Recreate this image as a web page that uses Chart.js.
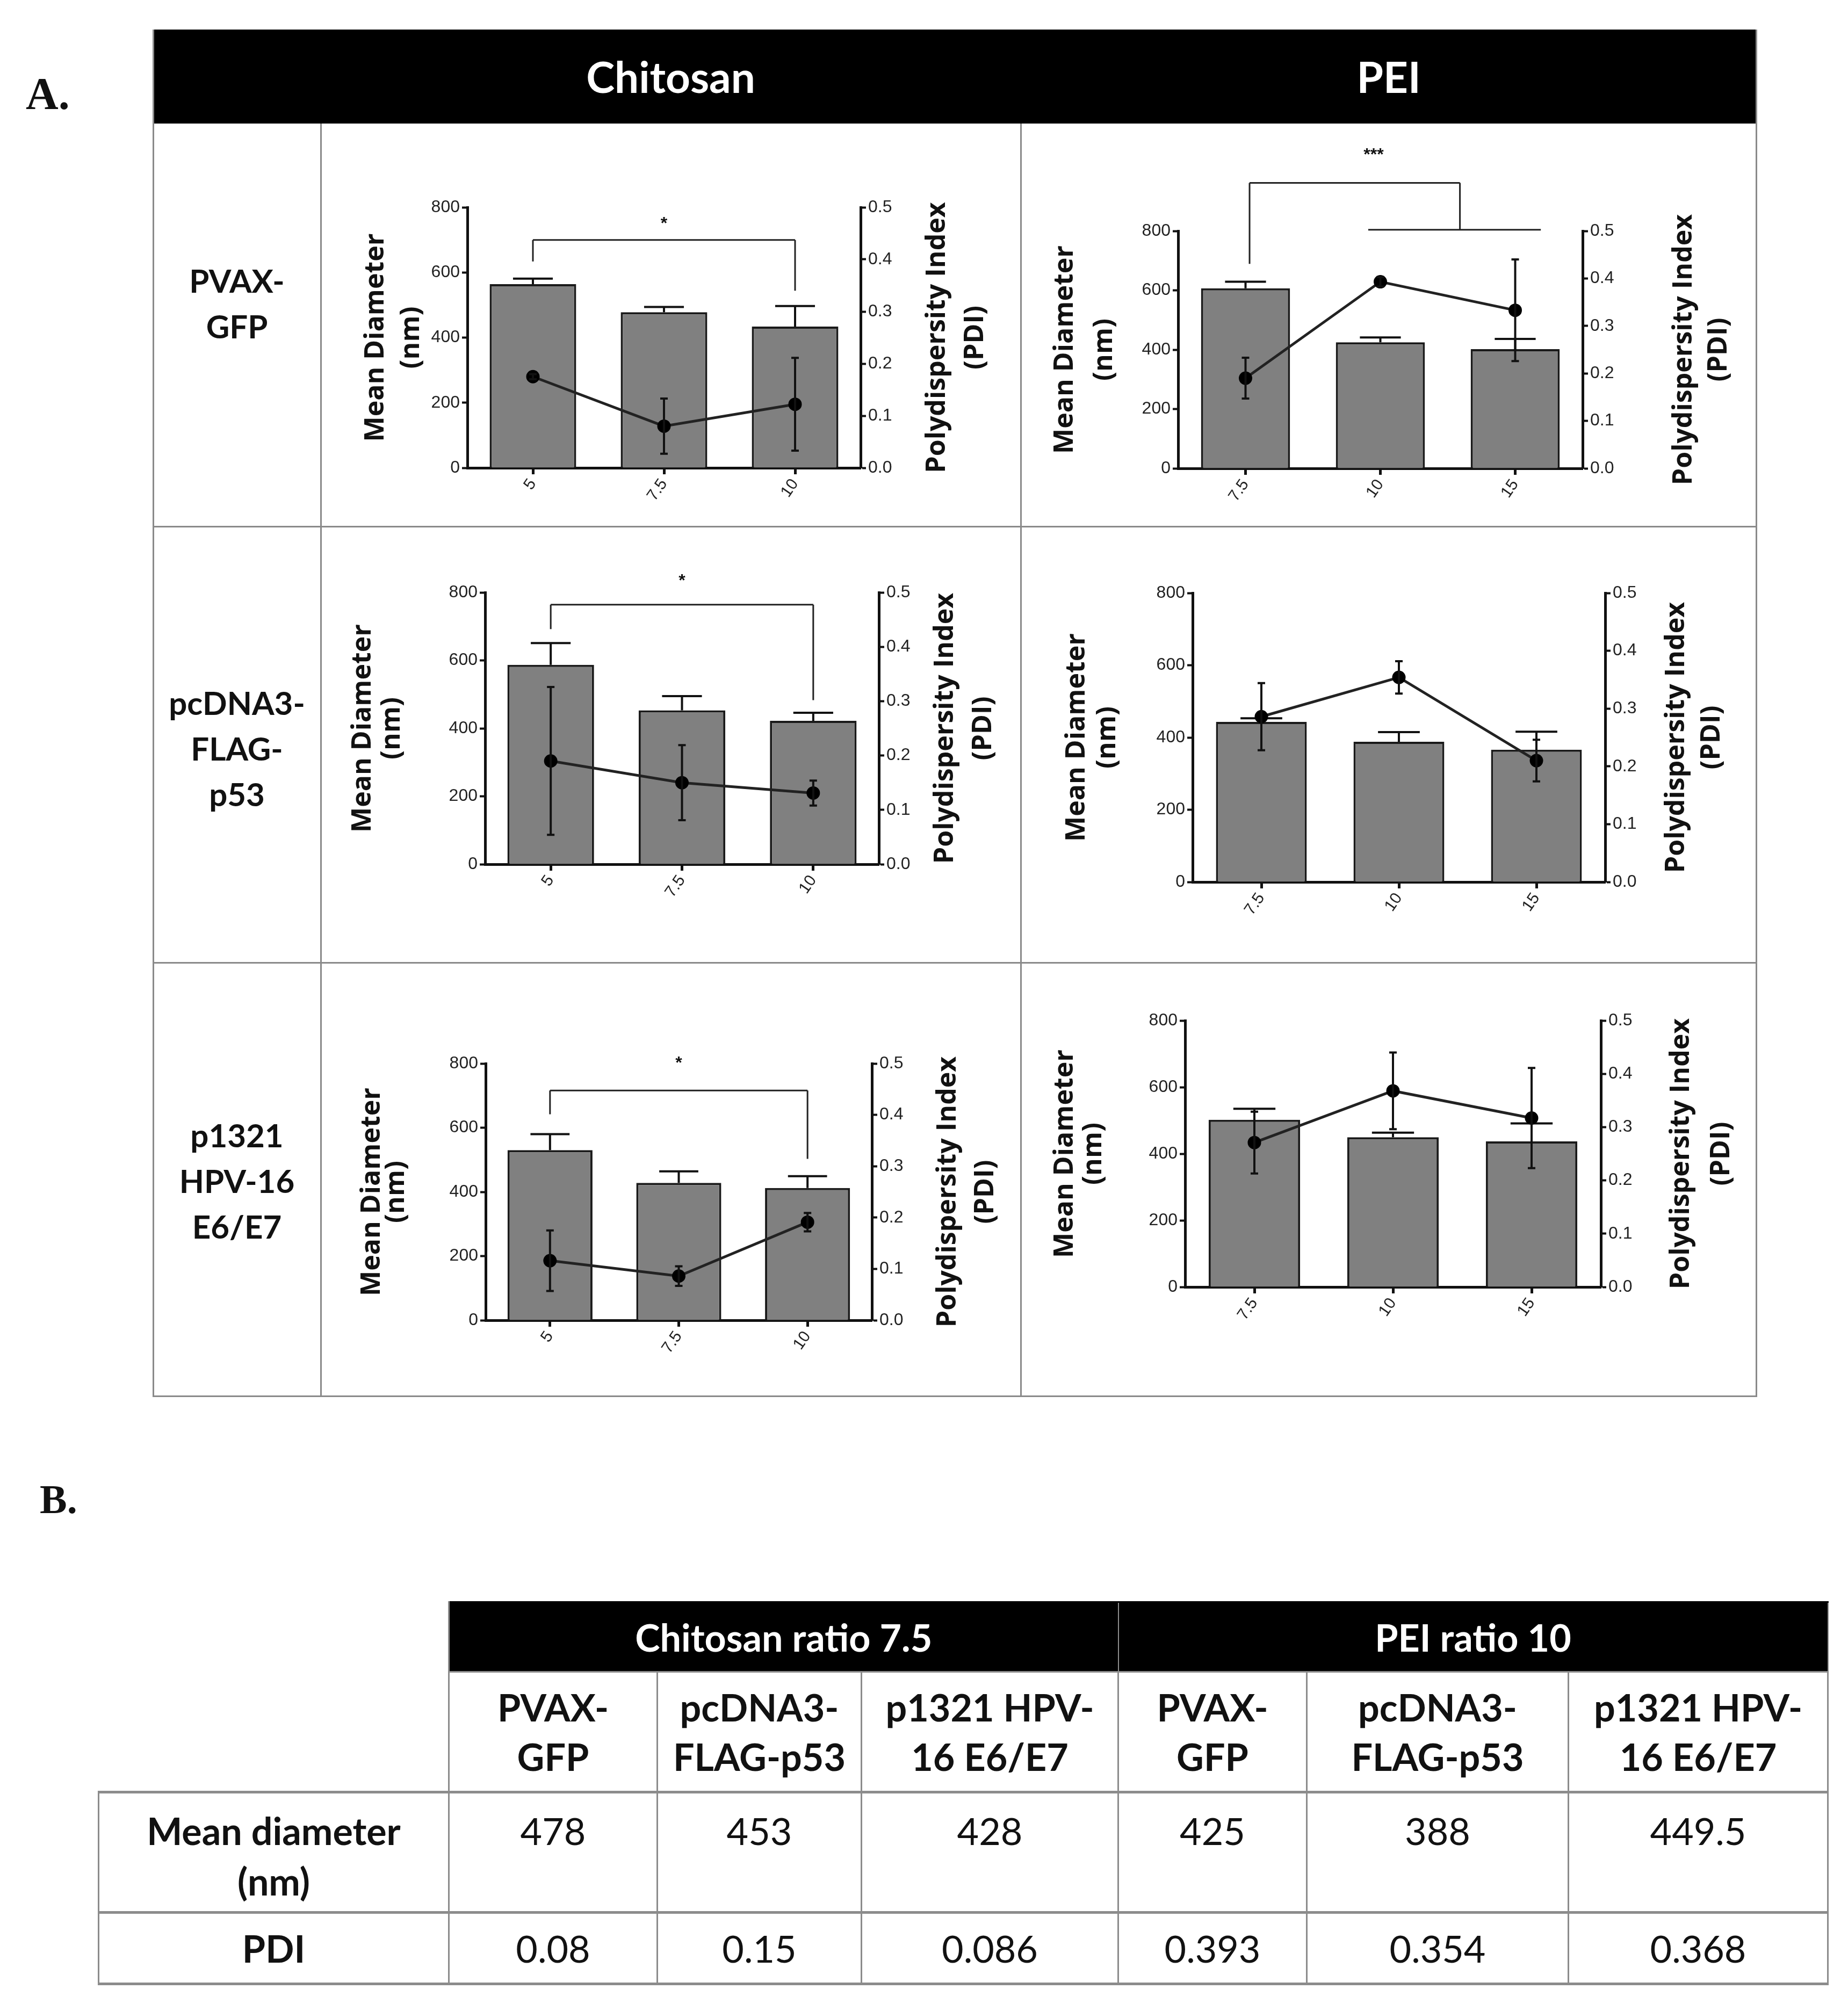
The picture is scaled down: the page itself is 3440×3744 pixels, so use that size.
<!DOCTYPE html>
<html>
<head>
<meta charset="utf-8">
<script src="https://cdn.jsdelivr.net/npm/chart.js@4.4.1/dist/chart.umd.min.js"></script>
<style>
html, body { margin: 0; padding: 0; background: #fff; }
#page { position: relative; width: 3440px; height: 3744px; background: #fff; overflow: hidden; font-family: Lato, 'Open Sans', sans-serif; color: #111; }
.letter { position: absolute; font-family: 'Liberation Serif', 'DejaVu Serif', serif; font-weight: bold; color: #111; }
.hdr { position: absolute; left: 285px; top: 55px; width: 2985px; height: 175px; background: #000; }
.hdr-text { position: absolute; top: 55px; height: 175px; line-height: 175px; color: #fff; font-weight: bold; font-size: 80px; text-align: center; }
.hline { position: absolute; height: 3px; background: #8a8a8a; }
.vline { position: absolute; width: 3px; background: #8a8a8a; }
.rowlab { position: absolute; left: 285px; width: 312px; text-align: center; font-weight: bold; font-size: 60px; line-height: 85px; transform: translateY(-50%); }
.cell { position: absolute; }
#tblB { position: absolute; left: 182px; top: 2981px; width: 3219px; border-collapse: collapse; table-layout: fixed; }
#tblB td, #tblB th { border: 3px solid #8c8c8c; padding: 0; text-align: center; font-size: 70px; color: #111; }
#tblB th { font-weight: bold; }
#tblB td { font-weight: normal; }
#tblB .blank { border-top: none; border-left: none; }
#tblB .black { background: #000; color: #fff; border-top: 3px solid #000; border-left: 2px solid #8c8c8c; border-right: 2px solid #8c8c8c; }
#tblB tr.r0 { height: 130px; }
#tblB tr.r1 { height: 224px; }
#tblB tr.r1 th { line-height: 92px; vertical-align: middle; }
#tblB tr.r2 { height: 224px; }
#tblB tr.r2 td, #tblB tr.r2 th { vertical-align: top; padding-top: 22px; line-height: 94px; border-top-width: 5px; }
#tblB tr.r3 { height: 133px; }
#tblB tr.r3 td, #tblB tr.r3 th { border-top-width: 5px; border-bottom-width: 5px; }
</style>
</head>
<body>
<div id="page">
  <div class="letter" style="left:48px; top:133px; font-size:84px; line-height:84px;">A.</div>
  <div class="hdr"></div>
  <div class="hdr-text" style="left:597px; width:1303px;">Chitosan</div>
  <div class="hdr-text" style="left:1900px; width:1370px;">PEI</div>

  <div class="vline" style="left:284px; top:55px; height:2546px;"></div>
  <div class="vline" style="left:3268px; top:55px; height:2546px;"></div>
  <div class="vline" style="left:596px; top:230px; height:2370px;"></div>
  <div class="vline" style="left:1899px; top:230px; height:2370px;"></div>
  <div class="hline" style="left:284px; top:979px; width:2987px;"></div>
  <div class="hline" style="left:284px; top:1791px; width:2987px;"></div>
  <div class="hline" style="left:284px; top:2598px; width:2987px;"></div>

  <div class="rowlab" style="top:565px;">PVAX-<br>GFP</div>
  <div class="rowlab" style="top:1393px;">pcDNA3-<br>FLAG-<br>p53</div>
  <div class="rowlab" style="top:2198px;">p1321<br>HPV-16<br>E6/E7</div>

  <div class="letter" style="left:74px; top:2753px; font-size:76px; line-height:76px;">B.</div>

  <table id="tblB">
    <colgroup>
      <col style="width:652px"><col style="width:388px"><col style="width:380px"><col style="width:478px">
      <col style="width:351px"><col style="width:487px"><col style="width:483px">
    </colgroup>
    <tr class="r0">
      <td class="blank" rowspan="2"></td>
      <th class="black" colspan="3">Chitosan ratio 7.5</th>
      <th class="black" colspan="3">PEI ratio 10</th>
    </tr>
    <tr class="r1">
      <th>PVAX-<br>GFP</th><th>pcDNA3-<br>FLAG-p53</th><th>p1321 HPV-<br>16 E6/E7</th>
      <th>PVAX-<br>GFP</th><th>pcDNA3-<br>FLAG-p53</th><th>p1321 HPV-<br>16 E6/E7</th>
    </tr>
    <tr class="r2">
      <th>Mean diameter<br>(nm)</th><td>478</td><td>453</td><td>428</td><td>425</td><td>388</td><td>449.5</td>
    </tr>
    <tr class="r3">
      <th>PDI</th><td>0.08</td><td>0.15</td><td>0.086</td><td>0.393</td><td>0.354</td><td>0.368</td>
    </tr>
  </table>
</div>

<script>
// Ratios (x categories)
const chitosanRatios = ['5', '7.5', '10'];
const peiRatios = ['7.5', '10', '15'];

// Tick labels
const diameterTicks = [0, 200, 400, 600, 800];
const pdiTicks = [0, 0.1, 0.2, 0.3, 0.4, 0.5];

// PVAX-GFP
const pvaxChitosanDiameter = [564, 478, 434];
const pvaxChitosanDiameterSd = [17, 16, 63];
const pvaxChitosanPdi = [0.175, 0.08, 0.122];
const pvaxChitosanPdiSd = [0.005, 0.053, 0.089];

const pvaxPeiDiameter = [607, 425, 402];
const pvaxPeiDiameterSd = [22, 16, 34];
const pvaxPeiPdi = [0.19, 0.393, 0.333];
const pvaxPeiPdiSd = [0.043, 0.01, 0.107];

// pcDNA3-FLAG-p53
const p53ChitosanDiameter = [587, 453, 422];
const p53ChitosanDiameterSd = [64, 42, 24];
const p53ChitosanPdi = [0.19, 0.15, 0.131];
const p53ChitosanPdiSd = [0.136, 0.069, 0.023];

const p53PeiDiameter = [443, 388, 366];
const p53PeiDiameterSd = [10, 27, 50];
const p53PeiPdi = [0.286, 0.354, 0.21];
const p53PeiPdiSd = [0.058, 0.028, 0.036];

// p1321 HPV-16 E6/E7
const hpvChitosanDiameter = [530, 428, 412];
const hpvChitosanDiameterSd = [50, 36, 37];
const hpvChitosanPdi = [0.116, 0.086, 0.191];
const hpvChitosanPdiSd = [0.059, 0.019, 0.018];

const hpvPeiDiameter = [502, 449.5, 437];
const hpvPeiDiameterSd = [33, 14, 54];
const hpvPeiPdi = [0.271, 0.368, 0.317];
const hpvPeiPdiSd = [0.058, 0.072, 0.094];

const AXIS_W = 100;
const AXIS_H = 100;
const tickFont = { family: "'Liberation Sans', Arial, sans-serif", size: 32 };

// barres d'erreur (diamètre : vers le haut seulement, PDI : des deux côtés)
const errorBarPlugin = {
    id: 'errorBars',
    afterDatasetDraw(chart, args) {
        const ds = chart.data.datasets[args.index];
        if (!ds.errors) return;
        const meta = args.meta;
        const yScale = chart.scales[ds.yAxisID];
        const ctx = chart.ctx;
        ctx.save();
        ctx.strokeStyle = '#111';
        ctx.lineWidth = 4;
        meta.data.forEach((el, i) => {
            const v = ds.data[i];
            const e = ds.errors[i];
            const x = el.x;
            const top = yScale.getPixelForValue(v + e);
            ctx.beginPath();
            if (ds.type === 'bar') {
                const cap = el.width * 0.23;
                ctx.moveTo(x, yScale.getPixelForValue(v));
                ctx.lineTo(x, top);
                ctx.moveTo(x - cap, top);
                ctx.lineTo(x + cap, top);
            } else {
                const bot = yScale.getPixelForValue(v - e);
                ctx.moveTo(x, bot);
                ctx.lineTo(x, top);
                ctx.moveTo(x - 7, top);
                ctx.lineTo(x + 7, top);
                ctx.moveTo(x - 7, bot);
                ctx.lineTo(x + 7, bot);
            }
            ctx.stroke();
        });
        ctx.restore();
    }
};

// titres des axes (les deux se lisent de bas en haut)
const axisTitlePlugin = {
    id: 'axisTitles',
    afterDraw(chart, args, opts) {
        const ctx = chart.ctx;
        const ca = chart.chartArea;
        const midY = (ca.top + ca.bottom) / 2;
        const draw = (text, x) => {
            ctx.save();
            ctx.translate(x, midY);
            ctx.rotate(-Math.PI / 2);
            ctx.fillText(text, 0, 0);
            ctx.restore();
        };
        ctx.save();
        ctx.fillStyle = '#111';
        ctx.font = "bold 50px 'Open Sans'";
        ctx.textAlign = 'center';
        ctx.textBaseline = 'middle';
        draw('Mean Diameter', ca.left + opts.left[0]);
        draw('(nm)', ca.left + opts.left[1]);
        draw('Polydispersity Index', ca.right + opts.right[0]);
        draw('(PDI)', ca.right + opts.right[1]);
        ctx.restore();
    }
};

// crochets de significativité
const sigBracketPlugin = {
    id: 'sigBracket',
    afterDraw(chart, args, opts) {
        if (!opts || !opts.lines) return;
        const xs = chart.scales.x;
        const ys = chart.scales.y;
        const p0 = xs.getPixelForTick(0);
        const p1 = xs.getPixelForTick(1);
        const px = f => p0 + f * (p1 - p0);
        const ctx = chart.ctx;
        ctx.save();
        ctx.strokeStyle = '#222';
        ctx.lineWidth = 3;
        ctx.beginPath();
        opts.lines.forEach(l => {
            ctx.moveTo(px(l[0]), ys.getPixelForValue(l[1]));
            ctx.lineTo(px(l[2]), ys.getPixelForValue(l[3]));
        });
        ctx.stroke();
        ctx.fillStyle = '#111';
        ctx.font = "bold 32px 'Liberation Sans'";
        ctx.textAlign = 'center';
        ctx.textBaseline = 'middle';
        ctx.fillText(opts.label, px(opts.labelAt[0]), ys.getPixelForValue(opts.labelAt[1]) + 6);
        ctx.restore();
    }
};

Chart.register(errorBarPlugin, axisTitlePlugin, sigBracketPlugin);

function makePanel(id, box, labels, diameter, diameterSd, pdi, pdiSd, extra) {
    const wrap = document.createElement('div');
    wrap.className = 'cell';
    wrap.style.left = box.x + 'px';
    wrap.style.top = box.y + 'px';
    wrap.style.width = box.w + 'px';
    wrap.style.height = box.h + 'px';
    const canvas = document.createElement('canvas');
    canvas.id = id;
    wrap.appendChild(canvas);
    document.getElementById('page').appendChild(wrap);

    const a = box.area;
    return new Chart(canvas, {
        type: 'bar',
        data: {
            labels: labels,
            datasets: [{
                type: 'line',
                label: 'PDI',
                data: pdi,
                errors: pdiSd,
                yAxisID: 'y1',
                borderColor: '#222',
                borderWidth: 5,
                pointRadius: 10,
                pointBackgroundColor: '#000',
                pointBorderColor: '#000',
                order: 1
            }, {
                type: 'bar',
                label: 'Mean Diameter',
                data: diameter,
                errors: diameterSd,
                yAxisID: 'y',
                backgroundColor: '#808080',
                borderColor: '#1a1a1a',
                borderWidth: 4,
                barPercentage: 0.66,
                categoryPercentage: 1,
                order: 2
            }]
        },
        options: {
            responsive: true,
            maintainAspectRatio: false,
            animation: false,
            layout: {
                padding: {
                    left: a.L - box.x - AXIS_W,
                    right: box.x + box.w - a.R - AXIS_W,
                    top: a.T - box.y,
                    bottom: box.y + box.h - a.B - AXIS_H
                }
            },
            plugins: {
                legend: { display: false },
                tooltip: { enabled: false },
                axisTitles: extra.titles,
                sigBracket: extra.bracket
            },
            scales: {
                x: {
                    grid: { display: true, drawOnChartArea: false, offset: false, tickLength: 12, tickWidth: 5, tickColor: '#111' },
                    border: { color: '#111', width: 5 },
                    ticks: { font: { family: tickFont.family, size: 30 }, color: '#222', minRotation: 55, maxRotation: 55, padding: 2 },
                    afterFit: s => { s.height = AXIS_H; }
                },
                y: {
                    position: 'left',
                    min: 0,
                    max: 800,
                    afterBuildTicks: s => { s.ticks = diameterTicks.map(v => ({ value: v })); },
                    grid: { drawOnChartArea: false, tickLength: 10, tickWidth: 4, tickColor: '#111' },
                    border: { color: '#111', width: 5 },
                    ticks: { font: tickFont, color: '#222', padding: 4 },
                    afterFit: s => { s.width = AXIS_W; }
                },
                y1: {
                    position: 'right',
                    min: 0,
                    max: 0.5,
                    afterBuildTicks: s => { s.ticks = pdiTicks.map(v => ({ value: v })); },
                    grid: { drawOnChartArea: false, tickLength: 10, tickWidth: 4, tickColor: '#111' },
                    border: { color: '#111', width: 5 },
                    ticks: { font: tickFont, color: '#222', padding: 4, callback: v => Number(v).toFixed(1) },
                    afterFit: s => { s.width = AXIS_W; }
                }
            }
        }
    });
}

// emplacement de chaque graphique dans la grille (coordonnées de la page)
const panels = [
    { x: 597,  y: 230,  w: 1303, h: 750, area: { L: 870,  R: 1602, T: 386,  B: 871 } },
    { x: 1900, y: 230,  w: 1370, h: 750, area: { L: 2193, R: 2946, T: 430,  B: 872 } },
    { x: 597,  y: 980,  w: 1303, h: 812, area: { L: 903,  R: 1636, T: 1103, B: 1609 } },
    { x: 1900, y: 980,  w: 1370, h: 812, area: { L: 2220, R: 2988, T: 1104, B: 1642 } },
    { x: 597,  y: 1792, w: 1303, h: 808, area: { L: 904,  R: 1623, T: 1980, B: 2458 } },
    { x: 1900, y: 1792, w: 1370, h: 808, area: { L: 2206, R: 2980, T: 1900, B: 2396 } }
];

makePanel('pvaxChitosan', panels[0], chitosanRatios, pvaxChitosanDiameter, pvaxChitosanDiameterSd, pvaxChitosanPdi, pvaxChitosanPdiSd, {
    titles: { left: [-170, -104], right: [143, 214] },
    bracket: { lines: [[0, 634, 0, 700], [0, 700, 2, 700], [2, 700, 2, 544]], label: '*', labelAt: [1, 759] }
});
makePanel('pvaxPei', panels[1], peiRatios, pvaxPeiDiameter, pvaxPeiDiameterSd, pvaxPeiPdi, pvaxPeiPdiSd, {
    titles: { left: [-210, -137], right: [189, 254] },
    bracket: { lines: [[0.03, 689, 0.03, 962], [0.03, 962, 1.59, 962], [1.59, 962, 1.59, 804], [0.91, 804, 2.19, 804]], label: '***', labelAt: [0.95, 1065] }
});
makePanel('p53Chitosan', panels[2], chitosanRatios, p53ChitosanDiameter, p53ChitosanDiameterSd, p53ChitosanPdi, p53ChitosanPdiSd, {
    titles: { left: [-227, -173], right: [124, 195] },
    bracket: { lines: [[0, 692, 0, 764], [0, 764, 2, 764], [2, 764, 2, 483]], label: '*', labelAt: [1, 843] }
});
makePanel('p53Pei', panels[3], peiRatios, p53PeiDiameter, p53PeiDiameterSd, p53PeiPdi, p53PeiPdiSd, {
    titles: { left: [-215, -158], right: [133, 199] },
    bracket: false
});
makePanel('hpvChitosan', panels[4], chitosanRatios, hpvChitosanDiameter, hpvChitosanDiameterSd, hpvChitosanPdi, hpvChitosanPdiSd, {
    titles: { left: [-211, -166], right: [142, 212] },
    bracket: { lines: [[0, 642, 0, 716], [0, 716, 2, 716], [2, 716, 2, 503]], label: '*', labelAt: [1, 809] }
});
makePanel('hpvPei', panels[5], peiRatios, hpvPeiDiameter, hpvPeiDiameterSd, hpvPeiPdi, hpvPeiPdiSd, {
    titles: { left: [-223, -170], right: [150, 225] },
    bracket: false
});
</script>
</body>
</html>
